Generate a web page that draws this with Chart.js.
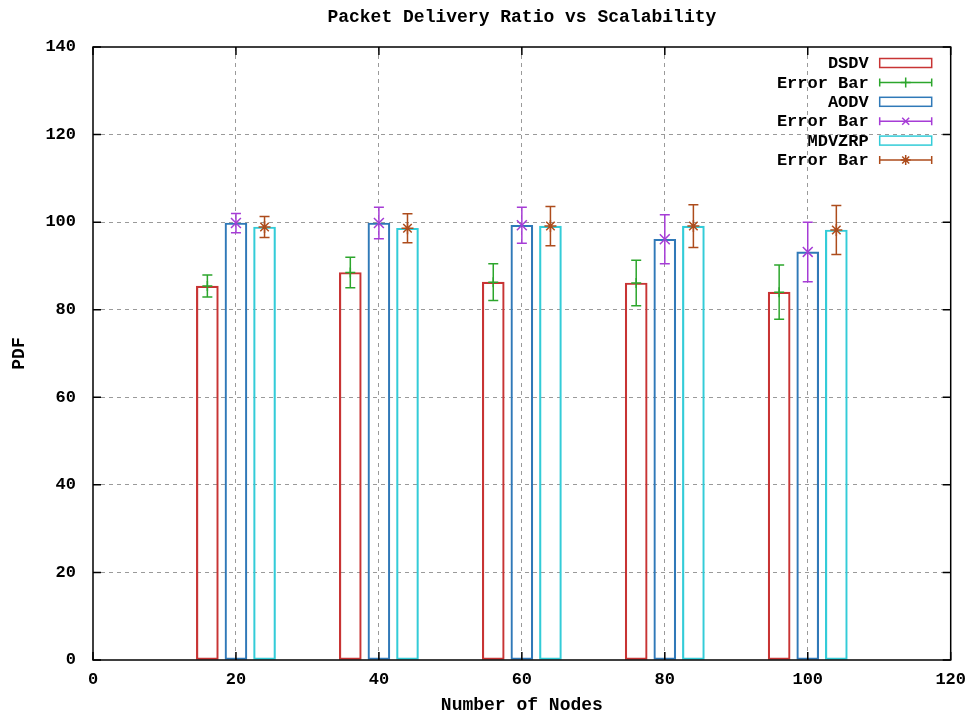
<!DOCTYPE html>
<html>
<head>
<meta charset="utf-8">
<title>Packet Delivery Ratio vs Scalability</title>
<script src="https://cdn.jsdelivr.net/npm/chart.js@4.4.0/dist/chart.umd.min.js"></script>
<style>
  body { margin: 0; background: #fff; }
  #wrap { width: 976px; height: 720px; }
</style>
</head>
<body>
<div id="wrap"><canvas id="pdf" width="976" height="720"></canvas></div>
<script>
// number of nodes per run
const nodes = [20, 40, 60, 80, 100];

// packet delivery ratio (%) and error half-widths
const dsdv = [85.4, 88.5, 86.3, 86.1, 84.0];
const dsdvErr = [2.5, 3.5, 4.2, 5.2, 6.2];
const aodv = [99.8, 99.8, 99.3, 96.1, 93.2];
const aodvErr = [2.2, 3.6, 4.1, 5.6, 6.8];
const mdvzrp = [98.9, 98.6, 99.1, 99.1, 98.2];
const mdvzrpErr = [2.4, 3.3, 4.5, 4.9, 5.6];

const xTicks = [0, 20, 40, 60, 80, 100, 120];
const yTicks = [0, 20, 40, 60, 80, 100, 120, 140];

const FONT = '"Liberation Mono", "DejaVu Sans Mono", monospace';
const RED = '#c83434', GREEN = '#2ca62c', BLUE = '#3079b8';
const PURPLE = '#a63cd6', CYAN = '#33ccd8', BROWN = '#ad4c1c';

// each protocol sits at a fixed shift from the node count
const shift = { dsdv: -4, aodv: 0, mdvzrp: 4 };

function pts(vals, dx) {
  return nodes.map((n, i) => ({ x: n + dx, y: vals[i] }));
}

function barSet(label, vals, dx, color) {
  return {
    type: 'bar', label, data: pts(vals, dx),
    backgroundColor: 'transparent', borderColor: color,
    borderWidth: 1.5, borderSkipped: false, barThickness: 22,
    grouped: false, order: 2
  };
}

function errSet(vals, errs, dx, color, style, radius) {
  return {
    type: 'line', label: 'Error Bar', data: pts(vals, dx), errors: errs,
    showLine: false, pointStyle: style, pointRadius: radius,
    pointBorderColor: color, pointBorderWidth: 1.5,
    pointBackgroundColor: color, borderColor: color, order: 1
  };
}

const datasets = [
  barSet('DSDV', dsdv, shift.dsdv, RED),
  errSet(dsdv, dsdvErr, shift.dsdv, GREEN, 'cross', 5),
  barSet('AODV', aodv, shift.aodv, BLUE),
  errSet(aodv, aodvErr, shift.aodv, PURPLE, 'crossRot', 7),
  barSet('MDVZRP', mdvzrp, shift.mdvzrp, CYAN),
  errSet(mdvzrp, mdvzrpErr, shift.mdvzrp, BROWN, 'star', 6)
];

// vertical whiskers with caps for the error sets
const errorBars = {
  id: 'errorBars',
  beforeDatasetsDraw(chart) {
    const { ctx, scales: { x, y } } = chart;
    ctx.save();
    ctx.lineWidth = 1.5;
    chart.data.datasets.forEach(ds => {
      if (!ds.errors) return;
      ctx.strokeStyle = ds.borderColor;
      ds.data.forEach((p, i) => {
        const px = x.getPixelForValue(p.x);
        const hi = y.getPixelForValue(p.y + ds.errors[i]);
        const lo = y.getPixelForValue(p.y - ds.errors[i]);
        ctx.beginPath();
        ctx.moveTo(px, hi); ctx.lineTo(px, lo);
        ctx.moveTo(px - 5, hi); ctx.lineTo(px + 5, hi);
        ctx.moveTo(px - 5, lo); ctx.lineTo(px + 5, lo);
        ctx.stroke();
      });
    });
    ctx.restore();
  }
};

// plot border with inward tick marks on all four sides
const frame = {
  id: 'frame',
  afterDatasetsDraw(chart) {
    const { ctx, chartArea: a, scales: { x, y } } = chart;
    ctx.save();
    ctx.strokeStyle = '#000';
    ctx.lineWidth = 1.5;
    ctx.strokeRect(a.left, a.top, a.right - a.left, a.bottom - a.top);
    ctx.beginPath();
    xTicks.forEach(v => {
      const px = x.getPixelForValue(v);
      ctx.moveTo(px, a.bottom); ctx.lineTo(px, a.bottom - 8);
      ctx.moveTo(px, a.top); ctx.lineTo(px, a.top + 8);
    });
    yTicks.forEach(v => {
      const py = y.getPixelForValue(v);
      ctx.moveTo(a.left, py); ctx.lineTo(a.left + 8, py);
      ctx.moveTo(a.right, py); ctx.lineTo(a.right - 8, py);
    });
    ctx.stroke();
    ctx.restore();
  }
};

function marker(ctx, style, cx, cy, r) {
  ctx.beginPath();
  if (style === 'cross' || style === 'star') {
    ctx.moveTo(cx, cy - r); ctx.lineTo(cx, cy + r);
    ctx.moveTo(cx - r, cy); ctx.lineTo(cx + r, cy);
  }
  if (style === 'crossRot' || style === 'star') {
    const d = r * 0.7;
    ctx.moveTo(cx - d, cy - d); ctx.lineTo(cx + d, cy + d);
    ctx.moveTo(cx - d, cy + d); ctx.lineTo(cx + d, cy - d);
  }
  ctx.stroke();
}

// key in the top right corner: label right-aligned, sample to its right
const key = {
  id: 'key',
  afterDraw(chart) {
    const { ctx, chartArea: a } = chart;
    const textRight = a.right - 82, s0 = a.right - 71, s1 = a.right - 19;
    ctx.save();
    ctx.font = 'bold 17px ' + FONT;
    ctx.textAlign = 'right';
    ctx.textBaseline = 'middle';
    chart.data.datasets.forEach((ds, i) => {
      const cy = a.top + 16 + i * 19.4;
      ctx.fillStyle = '#000';
      ctx.fillText(ds.label, textRight, cy + 1);
      ctx.lineWidth = 1.5;
      if (ds.type === 'bar') {
        ctx.strokeStyle = ds.borderColor;
        ctx.strokeRect(s0, cy - 4.5, s1 - s0, 9);
      } else {
        ctx.strokeStyle = ds.borderColor;
        ctx.beginPath();
        ctx.moveTo(s0, cy); ctx.lineTo(s1, cy);
        ctx.moveTo(s0, cy - 4); ctx.lineTo(s0, cy + 4);
        ctx.moveTo(s1, cy - 4); ctx.lineTo(s1, cy + 4);
        ctx.stroke();
        marker(ctx, ds.pointStyle, (s0 + s1) / 2, cy, 5);
      }
    });
    ctx.restore();
  }
};

const gridColor = ctx =>
  (ctx.tick && (ctx.tick.value === ctx.scale.min || ctx.tick.value === ctx.scale.max))
    ? 'rgba(0,0,0,0)' : '#9a9a9a';

new Chart(document.getElementById('pdf'), {
  type: 'bar',
  data: { datasets },
  options: {
    responsive: false,
    animation: false,
    layout: { padding: { right: 25 } },
    plugins: {
      legend: { display: false },
      tooltip: { enabled: false },
      title: {
        display: true,
        fullSize: false,
        text: 'Packet Delivery Ratio vs Scalability',
        color: '#000',
        font: { family: FONT, size: 18, weight: 'bold' },
        padding: { top: 7, bottom: 18.4 }
      }
    },
    scales: {
      x: {
        type: 'linear', min: 0, max: 120, offset: false,
        afterBuildTicks: s => { s.ticks = xTicks.map(v => ({ value: v })); },
        afterFit: s => { s.height = 60; },
        ticks: { color: '#000', padding: 10, font: { family: FONT, size: 17, weight: 'bold' } },
        grid: { offset: false, drawTicks: false, color: gridColor, lineWidth: 1 },
        border: { display: false, dash: [4, 4] },
        title: {
          display: true, text: 'Number of Nodes', color: '#000',
          font: { family: FONT, size: 18, weight: 'bold' },
          padding: { top: 0, bottom: 4 }
        }
      },
      y: {
        type: 'linear', min: 0, max: 140,
        afterBuildTicks: s => { s.ticks = yTicks.map(v => ({ value: v })); },
        afterFit: s => { s.width = 93; },
        ticks: { color: '#000', padding: 17, font: { family: FONT, size: 17, weight: 'bold' } },
        grid: { drawTicks: false, color: gridColor, lineWidth: 1 },
        border: { display: false, dash: [4, 4] },
        title: {
          display: true, text: 'PDF', color: '#000',
          font: { family: FONT, size: 18, weight: 'bold' },
          padding: { top: 9, bottom: 0 }
        }
      }
    }
  },
  plugins: [errorBars, frame, key]
});
</script>
</body>
</html>
